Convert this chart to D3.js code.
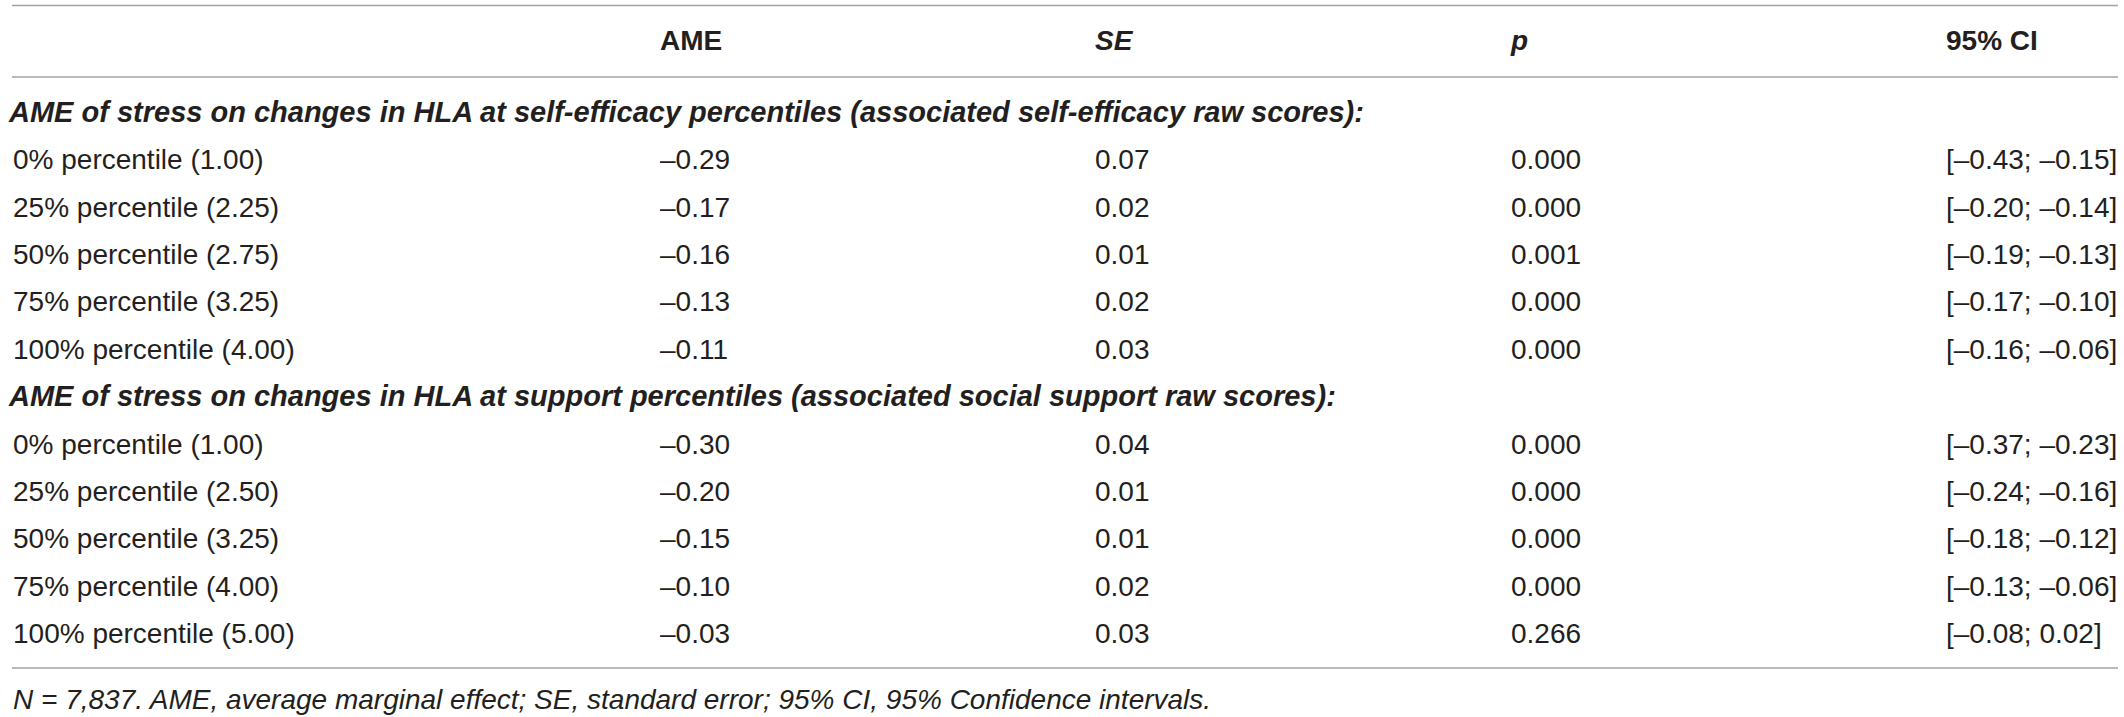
<!DOCTYPE html>
<meta charset="utf-8">
<head>
    <style type="text/css">
        body { margin: 0; background: #fff; }
        text { font-family: "Liberation Sans", Arial, sans-serif; font-size: 28px; fill: #231f20; }
        .head { font-weight: bold; }
        .section { font-weight: bold; font-style: italic; font-size: 29px; }
        .note { font-style: italic; }
        .rule { stroke: #a3a3a3; stroke-width: 1.6; }
    </style>
</head>
<body>
    <script src="https://d3js.org/d3.v7.min.js"></script>
    <script>
        // column headers (true = italic)
        var headers = ["", "AME", "SE", "p", "95% CI"];
        var headerItalic = [false, false, true, true, false];

        var sections = [
            "AME of stress on changes in HLA at self-efficacy percentiles (associated self-efficacy raw scores):",
            "AME of stress on changes in HLA at support percentiles (associated social support raw scores):"
        ];

        // self-efficacy block
        var labels1 = ["0% percentile (1.00)", "25% percentile (2.25)", "50% percentile (2.75)", "75% percentile (3.25)", "100% percentile (4.00)"];
        var ame1 = [-0.29, -0.17, -0.16, -0.13, -0.11];
        var se1 = [0.07, 0.02, 0.01, 0.02, 0.03];
        var p1 = [0.000, 0.000, 0.001, 0.000, 0.000];
        var ciLow1 = [-0.43, -0.20, -0.19, -0.17, -0.16];
        var ciHigh1 = [-0.15, -0.14, -0.13, -0.10, -0.06];

        // social support block
        var labels2 = ["0% percentile (1.00)", "25% percentile (2.50)", "50% percentile (3.25)", "75% percentile (4.00)", "100% percentile (5.00)"];
        var ame2 = [-0.30, -0.20, -0.15, -0.10, -0.03];
        var se2 = [0.04, 0.01, 0.01, 0.02, 0.03];
        var p2 = [0.000, 0.000, 0.000, 0.000, 0.266];
        var ciLow2 = [-0.37, -0.24, -0.18, -0.13, -0.08];
        var ciHigh2 = [-0.23, -0.16, -0.12, -0.06, 0.02];

        var footnote = "N = 7,837. AME, average marginal effect; SE, standard error; 95% CI, 95% Confidence intervals.";

        var width = 2124, height = 717;
        var left = 12, right = 2118;
        var colX = [13, 660, 1095, 1511, 1946];

        // en dash for minus, like the print version
        function num(v, d) {
            var s = Math.abs(v).toFixed(d);
            return (v < 0 ? "\u2013" : "") + s;
        }

        // build body rows: section label, then its 5 rows
        var body = [];
        function addBlock(title, labels, ame, se, p, lo, hi) {
            body.push({ section: title });
            labels.forEach(function (l, i) {
                body.push({ cells: [l, num(ame[i], 2), num(se[i], 2), num(p[i], 3), "[" + num(lo[i], 2) + "; " + num(hi[i], 2) + "]"] });
            });
        }
        addBlock(sections[0], labels1, ame1, se1, p1, ciLow1, ciHigh1);
        addBlock(sections[1], labels2, ame2, se2, p2, ciLow2, ciHigh2);

        var y = d3.scaleLinear().domain([0, body.length - 1]).range([112, 633]);
        var base = 10; // baseline offset from text centre

        var svg = d3.select("body").append("svg")
            .attr("width", width)
            .attr("height", height);

        // rules
        [5.5, 77, 668].forEach(function (ry) {
            svg.append("line").attr("class", "rule")
                .attr("x1", left).attr("x2", right)
                .attr("y1", ry).attr("y2", ry);
        });

        // header
        svg.selectAll(".head")
            .data(headers)
            .enter().append("text")
            .attr("class", "head")
            .attr("x", function (d, i) { return colX[i]; })
            .attr("y", 40 + base)
            .style("font-style", function (d, i) { return headerItalic[i] ? "italic" : "normal"; })
            .text(function (d) { return d; });

        var rows = svg.selectAll(".row")
            .data(body)
            .enter().append("g")
            .attr("class", "row")
            .attr("transform", function (d, i) { return "translate(0," + (y(i) + base) + ")"; });

        rows.filter(function (d) { return d.section; })
            .append("text")
            .attr("class", "section")
            .attr("x", 9)
            .text(function (d) { return d.section; });

        rows.filter(function (d) { return d.cells; })
            .selectAll("text")
            .data(function (d) { return d.cells; })
            .enter().append("text")
            .attr("x", function (d, i) { return colX[i]; })
            .text(function (d) { return d; });

        svg.append("text")
            .attr("class", "note")
            .attr("x", 13)
            .attr("y", 699 + base)
            .text(footnote);
    </script>
</body>
